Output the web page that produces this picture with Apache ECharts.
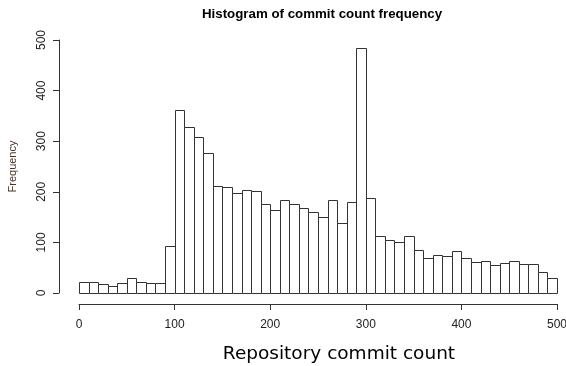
<!DOCTYPE html>
<html><head><meta charset="utf-8">
<script src="https://cdn.jsdelivr.net/npm/echarts@6/dist/echarts.min.js"></script>
<style>html,body{margin:0;padding:0;background:#fff}#c{width:566px;height:366px}</style>
</head><body><div id="c"></div>
<script>
const binStarts = [0,10,20,30,40,50,60,70,80,90,100,110,120,130,140,150,160,170,180,190,200,210,220,230,240,250,260,270,280,290,300,310,320,330,340,350,360,370,380,390,400,410,420,430,440,450,460,470,480,490];
const binWidth = 10;
const frequencies = [22,22,18,14,19,30,22,19,19,93,362,328,308,276,211,209,197,204,202,176,165,183,176,168,161,150,184,139,180,484,187,112,104,101,112,84,69,75,74,83,70,61,63,55,59,63,57,57,41,29];
const xTicks = [0,100,200,300,400,500];
const yTicks = [0,100,200,300,400,500];
const titleText = 'Histogram of commit count frequency';
const xName = 'Repository commit count';
const yName = 'Frequency';

const data = binStarts.map((s,i)=>[s, s+binWidth, frequencies[i]]);
const chart = echarts.init(document.getElementById('c'), null, {renderer:'canvas'});
chart.setOption({
  animation:false,
  backgroundColor:'#fff',
  title:{text:titleText,left:197,top:3,textStyle:{fontFamily:'Liberation Sans',fontSize:13.3,fontWeight:'bold',color:'#000'}},
  grid:{left:79,right:9,top:40,bottom:73,containLabel:false,outerBoundsMode:'none'},
  xAxis:{type:'value',min:xTicks[0],max:xTicks[xTicks.length-1],interval:100,offset:11,
    axisLine:{show:true,onZero:false,lineStyle:{color:'#333',width:1}},
    axisTick:{show:true,length:6,lineStyle:{color:'#333'}},
    axisLabel:{fontFamily:'Liberation Sans',fontSize:12,color:'#222',margin:15},
    splitLine:{show:false},
    name:xName,nameLocation:'middle',nameGap:41,
    nameTextStyle:{fontFamily:'DejaVu Sans',fontSize:18.5,color:'#000',padding:[0,0,0,42]}},
  yAxis:{type:'value',min:yTicks[0],max:yTicks[yTicks.length-1],interval:100,offset:20,
    axisLine:{show:true,onZero:false,lineStyle:{color:'#333',width:1}},
    axisTick:{show:true,length:6,lineStyle:{color:'#333'}},
    axisLabel:{fontFamily:'Liberation Sans',fontSize:12,color:'#222',rotate:90,margin:11},
    splitLine:{show:false},
    name:yName,nameLocation:'middle',nameGap:41,
    nameTextStyle:{fontFamily:'Liberation Sans',fontSize:11,color:'#4a3428'}},
  series:[{type:'custom',
    renderItem:function(params,api){
      const p0 = api.coord([api.value(0), api.value(2)]);
      const p1 = api.coord([api.value(1), 0]);
      return {type:'rect',shape:{x:Math.round(p0[0])+0.5,y:Math.round(p0[1])+0.5,width:Math.round(p1[0])-Math.round(p0[0]),height:Math.round(p1[1])-Math.round(p0[1])},
        style:{fill:'#fff',stroke:'#333',lineWidth:1}};
    },
    encode:{x:[0,1],y:2},
    data:data}]
});
</script></body></html>
